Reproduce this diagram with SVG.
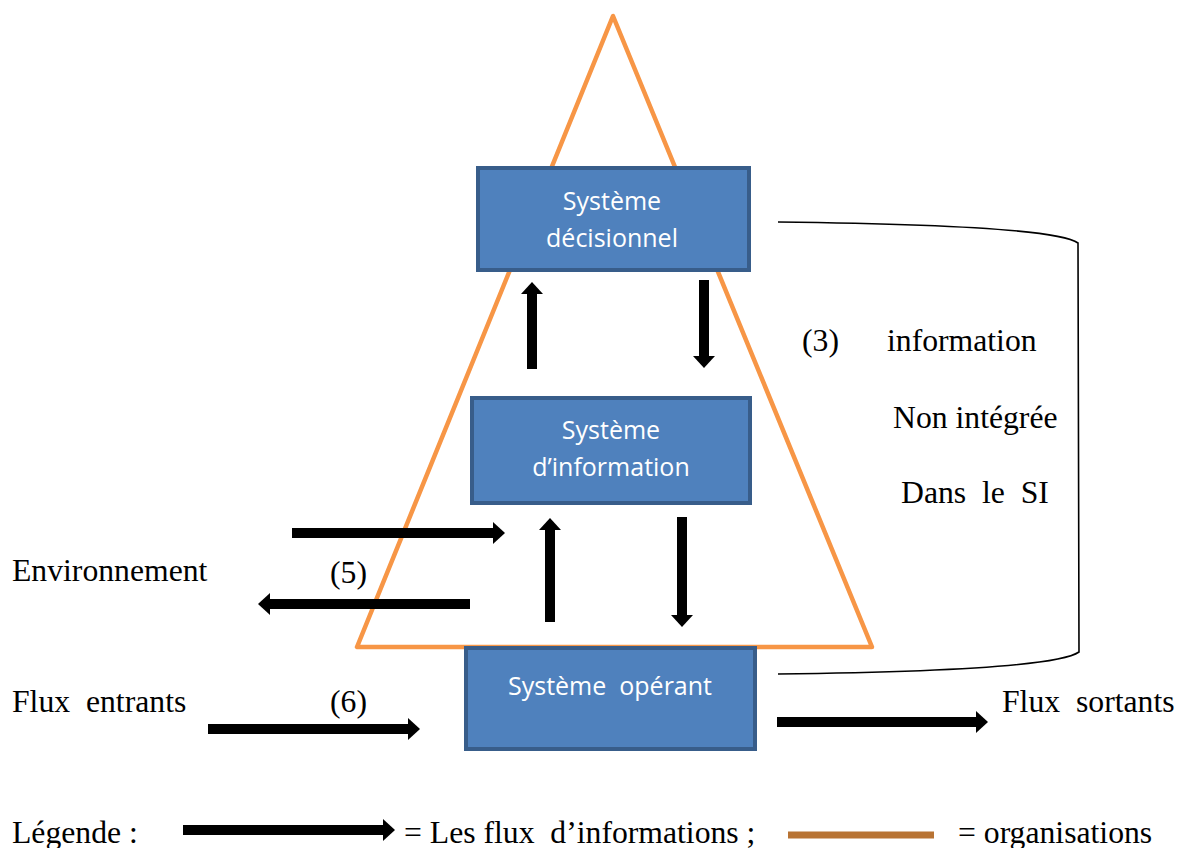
<svg xmlns="http://www.w3.org/2000/svg" width="1178" height="848" viewBox="0 0 1178 848">
<defs>
<style>
.box{fill:#4F81BD;stroke:#385D8A;stroke-width:4}
.bt{font-family:"Open Sans","Noto Sans",sans-serif;font-size:25px;fill:#FFFFFF;text-anchor:middle}
.t{font-family:"Liberation Serif","Times New Roman",serif;font-size:31.7px;fill:#000000}
.flow{stroke:#000000;stroke-width:10;fill:none;marker-end:url(#ah)}
</style>
<marker id="ah" markerUnits="userSpaceOnUse" markerWidth="12" markerHeight="22" viewBox="0 0 12 22" refX="0" refY="11" orient="auto">
<path d="M0,0 L12,11 L0,22 Z" fill="#000000"/>
</marker>
</defs>
<rect width="1178" height="848" fill="#FFFFFF"/>
<g id="organisation">
<polygon points="613,16 357,647 872,647" fill="none" stroke="#F79646" stroke-width="4.5" stroke-linejoin="round"/>
</g>
<g id="systeme-decisionnel">
<rect class="box" x="478" y="168" width="271" height="102"/>
<text class="bt" x="612" y="210">Système</text>
<text class="bt" x="612" y="247">décisionnel</text>
</g>
<g id="systeme-information">
<rect class="box" x="472" y="398" width="278" height="105"/>
<text class="bt" x="611" y="439">Système</text>
<text class="bt" x="611" y="476">d’information</text>
</g>
<g id="systeme-operant">
<rect class="box" x="466" y="648" width="289" height="101"/>
<text class="bt" x="610" y="695" xml:space="preserve">Système  opérant</text>
</g>
<g id="connectors">
<line class="flow" x1="532" y1="369" x2="532" y2="294"/>
<line class="flow" x1="704" y1="280" x2="704" y2="356"/>
<line class="flow" x1="550" y1="622" x2="550" y2="530"/>
<line class="flow" x1="682" y1="517" x2="682" y2="615"/>
<line class="flow" x1="292" y1="533" x2="493" y2="533"/>
<line class="flow" x1="470" y1="604" x2="270" y2="604"/>
<line class="flow" x1="208" y1="729" x2="408" y2="729"/>
<line class="flow" x1="777" y1="722" x2="976" y2="722"/>
<path d="M778,222 C950,224 1060,230 1078,243 L1079,652 C1060,665 950,672 778,674" fill="none" stroke="#000000" stroke-width="1.6"/>
</g>
<g id="labels">
<text class="t" x="802" y="351">(3)</text>
<text class="t" x="887" y="351">information</text>
<text class="t" x="893" y="428">Non intégrée</text>
<text class="t" x="901" y="503" xml:space="preserve">Dans  le  SI</text>
<text class="t" x="12" y="581">Environnement</text>
<text class="t" x="330" y="583">(5)</text>
<text class="t" x="12" y="712" xml:space="preserve">Flux  entrants</text>
<text class="t" x="330" y="712">(6)</text>
<text class="t" x="1002" y="712" xml:space="preserve">Flux  sortants</text>
</g>
<g id="legende">
<text class="t" x="12" y="843">Légende :</text>
<line class="flow" x1="183" y1="830" x2="383" y2="830"/>
<text class="t" x="404" y="843" xml:space="preserve">= Les flux  d’informations ;</text>
<line x1="788" y1="835" x2="934" y2="835" stroke="#B87333" stroke-width="7"/>
<text class="t" x="958" y="843">= organisations</text>
</g>
</svg>
